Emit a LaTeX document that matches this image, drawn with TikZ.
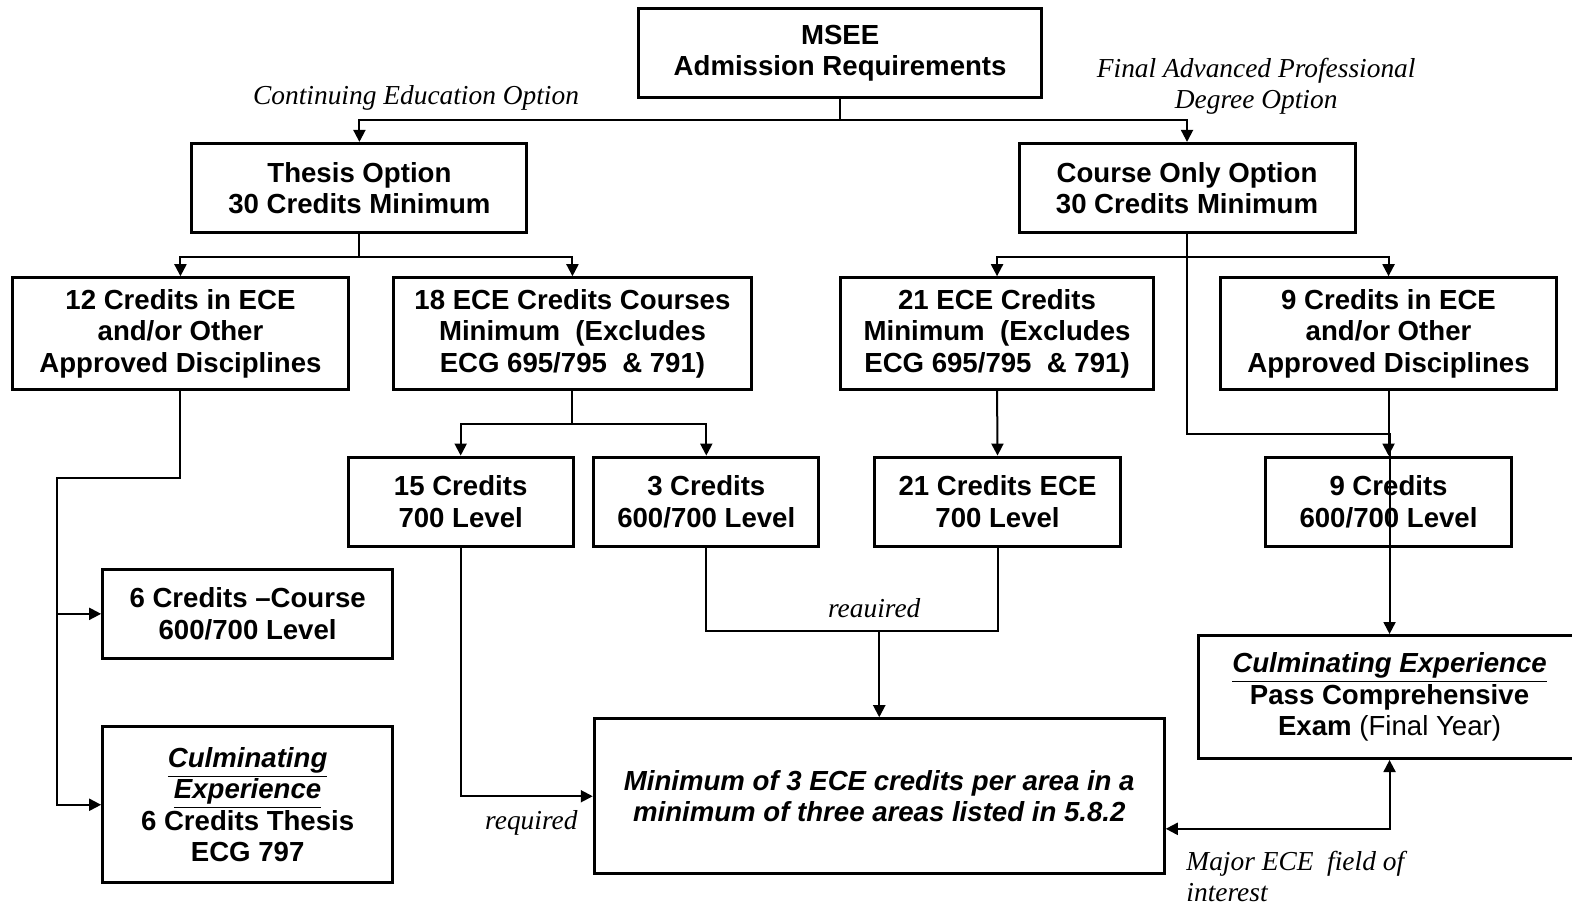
\documentclass[tikz,border=0pt]{standalone}
\usepackage{fontspec}
\setmainfont{Liberation Sans}
\newfontfamily\lblfont{Liberation Serif}
\usetikzlibrary{arrows.meta}

\begin{document}
\begin{tikzpicture}[x=0.50128pt, y=-0.5011pt,
    box/.style={draw, line width=1.5pt, align=center, inner sep=0pt,
      font=\fontsize{13.8}{15.75}\selectfont\bfseries},
    lbl/.style={align=center, inner sep=0pt, font=\fontsize{13.7}{15.5}\selectfont\lblfont\itshape},
    arr/.style={line width=1pt, -{Triangle[length=6pt,width=6pt]}},
    ln/.style={line width=1pt}]
    \useasboundingbox (0,0) rectangle (1568,903);

    % boxes
    \node[box, minimum width=201.5pt, minimum height=44.5pt] (msee) at (838,53) {MSEE\\Admission Requirements};
    \node[box, minimum width=167.5pt, minimum height=44.5pt] (thesis) at (358.5,187.5) {Thesis Option\\30 Credits Minimum};
    \node[box, minimum width=168pt, minimum height=44.5pt] (course) at (1184,187.5) {Course Only Option\\30 Credits Minimum};
    \node[box, minimum width=168pt, minimum height=56pt] (ece12) at (180,333) {12 Credits in ECE\\and/or Other\\Approved Disciplines};
    \node[box, minimum width=179pt, minimum height=56pt] (ece18) at (571,333) {18 ECE Credits Courses\\Minimum\ \ (Excludes\\ECG 695/795\ \ \& 791)};
    \node[box, minimum width=156.5pt, minimum height=56pt] (ece21) at (994.5,333) {21 ECE Credits\\Minimum\ \ (Excludes\\ECG 695/795\ \ \& 791)};
    \node[box, minimum width=168pt, minimum height=56pt] (ece9) at (1385,333) {9 Credits in ECE\\and/or Other\\Approved Disciplines};
    \node[box, minimum width=112.5pt, minimum height=44.5pt] (cr15) at (459.5,500.5) {15 Credits\\700 Level};
    \node[box, minimum width=112.5pt, minimum height=44.5pt] (cr3) at (704.5,500.5) {3 Credits\\600/700 Level};
    \node[box, minimum width=123pt, minimum height=44.5pt] (cr21) at (995,500.5) {21 Credits ECE\\700 Level};
    \node[box, minimum width=123pt, minimum height=44.5pt] (cr9) at (1385,500.5) {9 Credits\\600/700 Level};
    \node[box, minimum width=145pt, minimum height=44.5pt] (cr6) at (247,612.5) {6 Credits --Course\\600/700 Level};
    \node[box, minimum width=145pt, minimum height=78pt] (thesisce) at (247,803) {\itshape\underline{Culminating}\\\itshape\underline{Experience}\\6 Credits Thesis\\ECG 797};
    \node[box, minimum width=285pt, minimum height=77.5pt] (areas) at (877,794.5) {\itshape Minimum of 3 ECE credits per area in a\\\itshape minimum of three areas listed in 5.8.2};
    \node[box, minimum width=191pt, minimum height=61.5pt] (exam) at (1386,695.5) {\itshape\underline{Culminating Experience}\\Pass Comprehensive\\Exam \mdseries(Final Year)};

    % labels
    \node[lbl] (lblcont) at (415,98) {Continuing Education Option};
    \node[lbl] (lblfinal) at (1253,86) {Final Advanced Professional\\Degree Option};
    \node[lbl] (lblreq) at (530,821) {required};
    \node[lbl] (lblreau) at (872,607) {reauired};
    \node[lbl, align=left, anchor=north west] (lblmajor) at (1183,849) {Major ECE\ \ field of\\interest};

    % connectors
    \draw[arr] (msee.south) -- ++(0,21) -| (thesis.north);
    \draw[arr] (msee.south) -- ++(0,21) -| (course.north);
    \draw[arr] (thesis.south) -- ++(0,23) -| (ece12.north);
    \draw[arr] (thesis.south) -- ++(0,23) -| (ece18.north);
    \draw[arr] (course.south) -- ++(0,23) -| (ece21.north);
    \draw[arr] (course.south) -- ++(0,23) -| (ece9.north);
    \draw[arr] (ece18.south) -- ++(0,33) -| (cr15.north);
    \draw[arr] (ece18.south) -- ++(0,33) -| (cr3.north);
    \draw[arr] (ece21.south) -- (cr21.north);
    \draw[arr] (ece9.south) -- (cr9.north);

    \coordinate (bendL) at (57,477);
    \draw[arr] (ece12.south) |- (bendL) |- (cr6.west);
    \draw[arr] (bendL) |- (thesisce.west);

    \draw[arr] (cr15.south) |- (areas.west);
    \coordinate (meet) at (areas.north |- 0,630);
    \draw[ln] (cr3.south) |- (meet) -| (cr21.south);
    \draw[arr] (meet) -- (areas.north);

    \coordinate (join) at (exam.north |- 0,433);
    \draw[arr] (course.south) |- (join) -- (exam.north);
    \draw[ln, {Triangle[length=6pt,width=6pt]}-{Triangle[length=6pt,width=6pt]}] (areas.east |- 0,827) -| (exam.south);
\end{tikzpicture}
\end{document}
